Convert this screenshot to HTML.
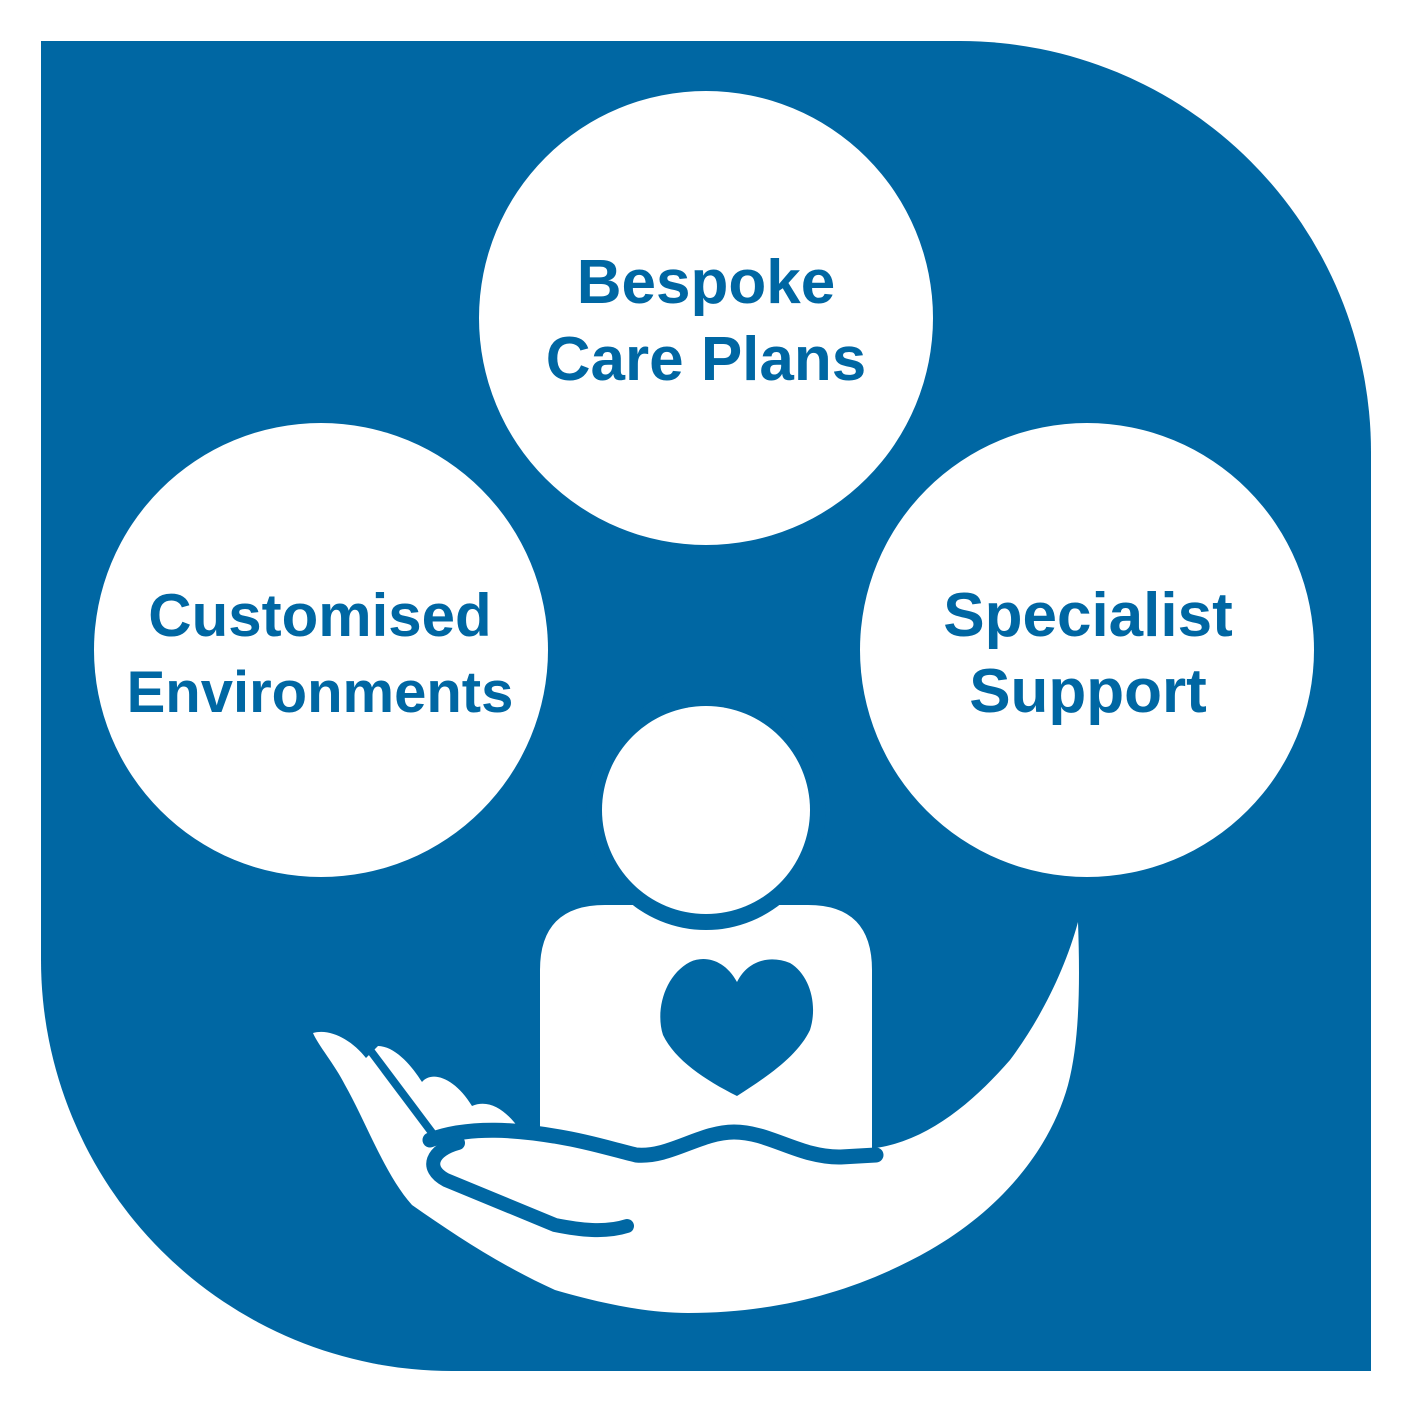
<!DOCTYPE html>
<html><head><meta charset="utf-8"><style>html,body{margin:0;padding:0;background:#fff}svg{display:block}</style></head>
<body>
<svg width="1413" height="1413" viewBox="0 0 1413 1413" xmlns="http://www.w3.org/2000/svg">
<rect width="1413" height="1413" fill="#fff"/>
<path d="M41,41 L960,41 A411,411 0 0 1 1371,452 L1371,1371 L452,1371 A411,411 0 0 1 41,960 Z" fill="#0067a3"/>
<circle cx="706" cy="318" r="227" fill="#fff"/>
<circle cx="321" cy="650" r="227" fill="#fff"/>
<circle cx="1087" cy="650" r="227" fill="#fff"/>
<g font-family="Liberation Sans, sans-serif" font-weight="bold" font-size="62" fill="#0067a3" text-anchor="middle">
<text x="706" y="303">Bespoke</text>
<text x="706" y="380">Care Plans</text>
<text x="320" y="636" font-size="60">Customised</text>
<text x="320" y="712" font-size="58">Environments</text>
<text x="1088" y="636">Specialist</text>
<text x="1088" y="712">Support</text>
</g>
<path d="M540,1150 L540,970 Q540,905 605,905 L808,905 Q872,905 872,970 L872,1150 Z" fill="#fff"/>
<circle cx="706" cy="810" r="120" fill="#0067a3"/>
<circle cx="706" cy="810" r="104" fill="#fff"/>
<path d="M737,982 C725,960 705,955 690,962 C665,975 655,1010 663,1035 C675,1060 705,1080 737,1096 C770,1075 798,1055 810,1030 C818,1005 810,975 790,963 C770,955 748,960 737,982 Z" fill="#0067a3"/>
<path d="M313,1033 C330,1028 352,1040 366,1058 L378,1046 C395,1046 412,1066 422,1082 C432,1070 455,1078 472,1106 C490,1098 508,1112 520,1130 L560,1140 L634,1152 C670,1150 700,1125 734,1128 C770,1130 800,1152 841,1152 L876,1148 C930,1140 975,1100 1010,1060 C1040,1020 1065,970 1078,922 C1080,980 1080,1040 1068,1085 C1050,1150 1000,1210 930,1250 C860,1290 780,1313 688,1313 C640,1313 590,1300 555,1290 C500,1265 455,1235 412,1205 C385,1175 365,1120 345,1085 C335,1065 318,1045 313,1033 Z" fill="#fff"/>
<line x1="370" y1="1050" x2="436" y2="1138" stroke="#0067a3" stroke-width="8"/>
<path d="M430,1140 C470,1125 520,1130 560,1137 C590,1142 615,1150 636,1155 C670,1158 700,1132 734,1132 C770,1132 800,1158 841,1157 L876,1155" fill="none" stroke="#0067a3" stroke-width="15" stroke-linecap="round"/>
<path d="M458,1143 C432,1150 424,1168 446,1180 L555,1225 C580,1230 605,1233 627,1226" fill="none" stroke="#0067a3" stroke-width="14" stroke-linecap="round"/>
</svg>
</body></html>
